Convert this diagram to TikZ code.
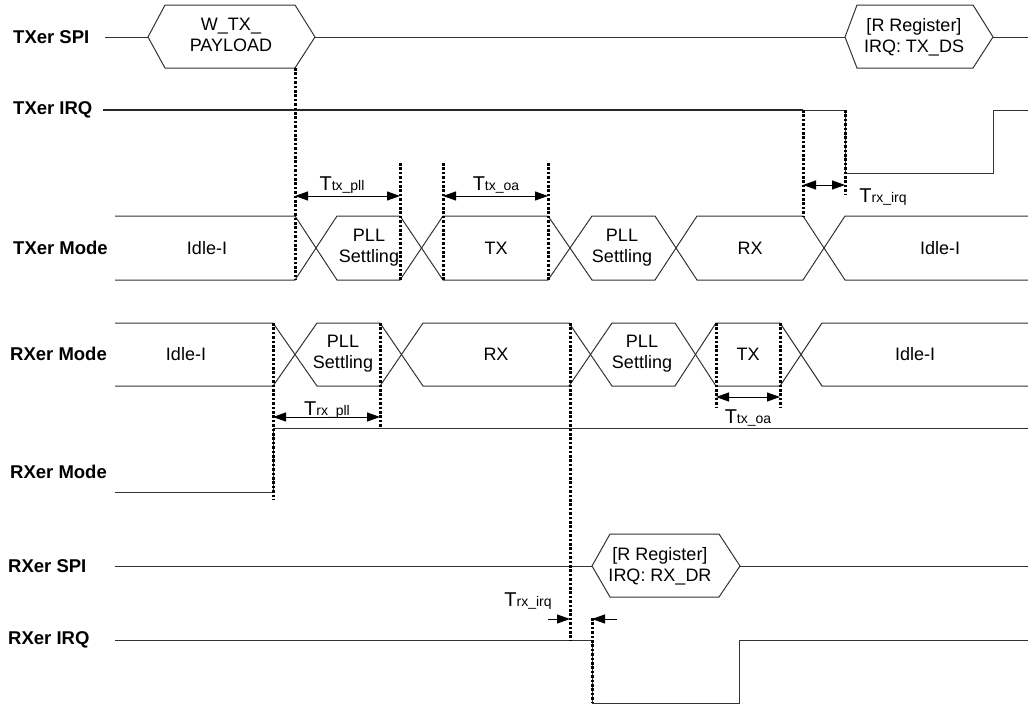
\documentclass[tikz,border=0pt]{standalone}
\usepackage{fontspec}
\setmainfont{Liberation Sans}
\usetikzlibrary{arrows.meta}
\newcommand\Tsub[1]{{\fontsize{20}{20}\selectfont T}{\fontsize{14}{14}\selectfont #1}}
\begin{document}
\begin{tikzpicture}[x=1pt,y=-1pt,
  sig/.style={line width=1pt, draw=black!80},
  irq/.style={line width=1.6pt, draw=black!85},
  dotmark/.style={line width=3pt, dash pattern=on 2.6pt off 1.8pt, draw=black},
  dimarrow/.style={line width=1pt, {Triangle[length=13pt,width=9pt]}-{Triangle[length=13pt,width=9pt]}},
  onearrow/.style={line width=1pt, -{Triangle[length=13pt,width=9pt]}},
  lbl/.style={font=\fontsize{18.5}{20}\selectfont\bfseries, anchor=west, inner sep=0pt},
  txt/.style={font=\fontsize{18}{21}\selectfont, align=center, inner sep=0pt},
  tm/.style={anchor=base, inner sep=0pt}
]
\useasboundingbox (0,0) rectangle (1028,704);

% ---------- signal labels
\node[lbl] (lTS) at (13,37) {TXer SPI};
\node[lbl] (lTI) at (13,110) {TXer IRQ};
\node[lbl] (lTM) at (13,248) {TXer Mode};
\node[lbl] (lRM) at (10,354) {RXer Mode};
\node[lbl] (lRM2) at (10,472) {RXer Mode};
\node[lbl] (lRS) at (8,566) {RXer SPI};
\node[lbl] (lRI) at (8,640) {RXer IRQ};

% ---------- TXer SPI
\draw[sig] (105,37) -- (148,37);
\draw[sig] (148,37) -- (165,5) -- (295,5) -- (315,37) -- (295,68) -- (165,68) -- cycle;
\draw[sig] (315,37) -- (845,37);
\draw[sig] (845,37) -- (857,5) -- (973,5) -- (993,37) -- (973,68) -- (857,68) -- cycle;
\draw[sig] (993,37) -- (1028,37);
\node[txt] (h1) at (231,35) {W\_TX\_\\PAYLOAD};
\node[txt] (h2) at (914,37) {[R Register]\\IRQ: TX\_DS};

% ---------- TXer IRQ
\draw[irq] (103,110) -- (803,110);
\draw[sig] (803,110) -- (845,110) -- (845,173) -- (993,173) -- (993,110) -- (1028,110);

% ---------- TXer Mode bus
\draw[sig] (115,216) -- (295,216) -- (337,280) -- (400,280) -- (443,216) -- (548,216)
  -- (592,280) -- (655,280) -- (697,216) -- (803,216) -- (845,280) -- (1028,280);
\draw[sig] (115,280) -- (295,280) -- (337,216) -- (400,216) -- (443,280) -- (548,280)
  -- (592,216) -- (655,216) -- (697,280) -- (803,280) -- (845,216) -- (1028,216);
\node[txt] (t1) at (207,248) {Idle-I};
\node[txt] (t2) at (369,248) {PLL\\Settling};
\node[txt] (t3) at (496,248) {TX};
\node[txt] (t4) at (622,248) {PLL\\Settling};
\node[txt] (t5) at (750,248) {RX};
\node[txt] (t6) at (940,248) {Idle-I};

% ---------- RXer Mode bus
\draw[sig] (115,323) -- (273,323) -- (317,386) -- (380,386) -- (423,323) -- (569,323)
  -- (612,386) -- (675,386) -- (716,323) -- (780,323) -- (822,386) -- (1028,386);
\draw[sig] (115,386) -- (273,386) -- (317,323) -- (380,323) -- (423,386) -- (569,386)
  -- (612,323) -- (675,323) -- (716,386) -- (780,386) -- (822,323) -- (1028,323);
\node[txt] (r1) at (186,354) {Idle-I};
\node[txt] (r2) at (343,354) {PLL\\Settling};
\node[txt] (r3) at (496,354) {RX};
\node[txt] (r4) at (642,354) {PLL\\Settling};
\node[txt] (r5) at (748,354) {TX};
\node[txt] (r6) at (915,354) {Idle-I};

% ---------- RXer Mode (level)
\draw[sig] (115,492) -- (273,492) -- (273,428) -- (1028,428);

% ---------- RXer SPI
\draw[sig] (115,566) -- (592,566);
\draw[sig] (592,566) -- (610,534) -- (719,534) -- (740,566) -- (719,597) -- (610,597) -- cycle;
\draw[sig] (740,566) -- (1028,566);
\node[txt] (h3) at (660,566) {[R Register]\\IRQ: RX\_DR};

% ---------- RXer IRQ
\draw[sig] (115,640) -- (592,640) -- (592,703) -- (739,703) -- (739,640) -- (1028,640);

% ---------- dotted markers
\draw[dotmark] (295,68) -- (295,280);
\draw[dotmark] (400,163) -- (400,280);
\draw[dotmark] (443,163) -- (443,280);
\draw[dotmark] (548,163) -- (548,280);
\draw[dotmark] (803,110) -- (803,216);
\draw[dotmark] (845,110) -- (845,195);
\draw[dotmark] (273,323) -- (273,500);
\draw[dotmark] (380,323) -- (380,428);
\draw[dotmark] (570,323) -- (570,640);
\draw[dotmark] (716,323) -- (716,408);
\draw[dotmark] (780,323) -- (780,408);
\draw[dotmark] (592,618) -- (592,703);

% ---------- timing dimensions
\coordinate (a1) at (295,196); \coordinate (b1) at (400,196);
\draw[dimarrow] (a1) -- (b1);
\node[tm] (d1) at (342,190) {\Tsub{tx\_pll}};
\coordinate (a2) at (443,196); \coordinate (b2) at (548,196);
\draw[dimarrow] (a2) -- (b2);
\node[tm] (d2) at (496,190) {\Tsub{tx\_oa}};
\coordinate (a3) at (803,185); \coordinate (b3) at (845,185);
\draw[dimarrow] (a3) -- (b3);
\node[tm] (d3) at (883,202) {\Tsub{rx\_irq}};
\coordinate (a4) at (273,417); \coordinate (b4) at (380,417);
\draw[dimarrow] (a4) -- (b4);
\node[tm] (d4) at (327,415) {\Tsub{rx\_pll}};
\coordinate (a5) at (716,397); \coordinate (b5) at (780,397);
\draw[dimarrow] (a5) -- (b5);
\node[tm] (d5) at (748,423) {\Tsub{tx\_oa}};
\coordinate (a6) at (548,619); \coordinate (b6) at (570,619);
\draw[onearrow] (a6) -- (b6);
\coordinate (a7) at (617,619); \coordinate (b7) at (592,619);
\draw[onearrow] (a7) -- (b7);
\node[tm] (d6) at (528,606) {\Tsub{rx\_irq}};
\end{tikzpicture}
\end{document}
